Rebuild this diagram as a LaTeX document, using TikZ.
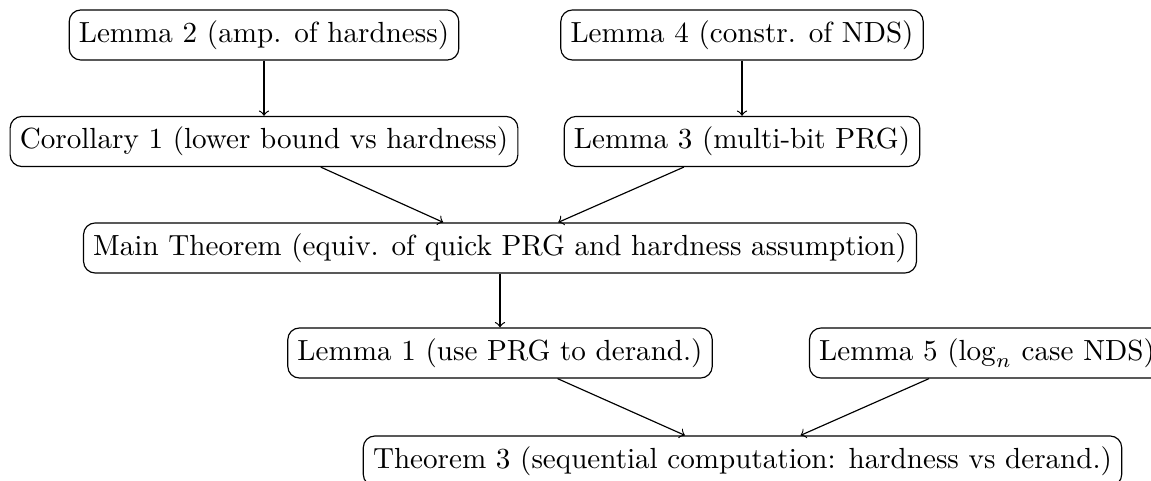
\documentclass[tikz,border=0pt]{standalone}
\begin{document}
\begin{tikzpicture}[x=0.3436pt,y=-0.3436pt,
  box/.style={draw,rounded corners=4pt,inner ysep=3.6pt},
  arr/.style={->}]
\useasboundingbox (0,0) rectangle (1151,481);
\node[box] (l2) at (264,35) {Lemma 2 (amp. of hardness)};
\node[box] (l4) at (742,35) {Lemma 4 (constr. of NDS)};
\node[box] (c1) at (264,141.5) {Corollary 1 (lower bound vs hardness)};
\node[box] (l3) at (742,141.5) {Lemma 3 (multi-bit PRG)};
\node[box] (mt) at (500,248) {Main Theorem (equiv. of quick PRG and hardness assumption)};
\node[box] (l1) at (500,353) {Lemma 1 (use PRG to derand.)};
\node[box] (l5) at (987,353) {Lemma 5 ($\log_n$ case NDS)};
\node[box] (t3) at (742.5,461) {Theorem 3 (sequential computation: hardness vs derand.)};
\draw[arr] (l2) -- (c1);
\draw[arr] (l4) -- (l3);
\draw[arr] (c1) -- (mt);
\draw[arr] (l3) -- (mt);
\draw[arr] (mt) -- (l1);
\draw[arr] (l1) -- (t3);
\draw[arr] (l5) -- (t3);
\end{tikzpicture}
\end{document}
